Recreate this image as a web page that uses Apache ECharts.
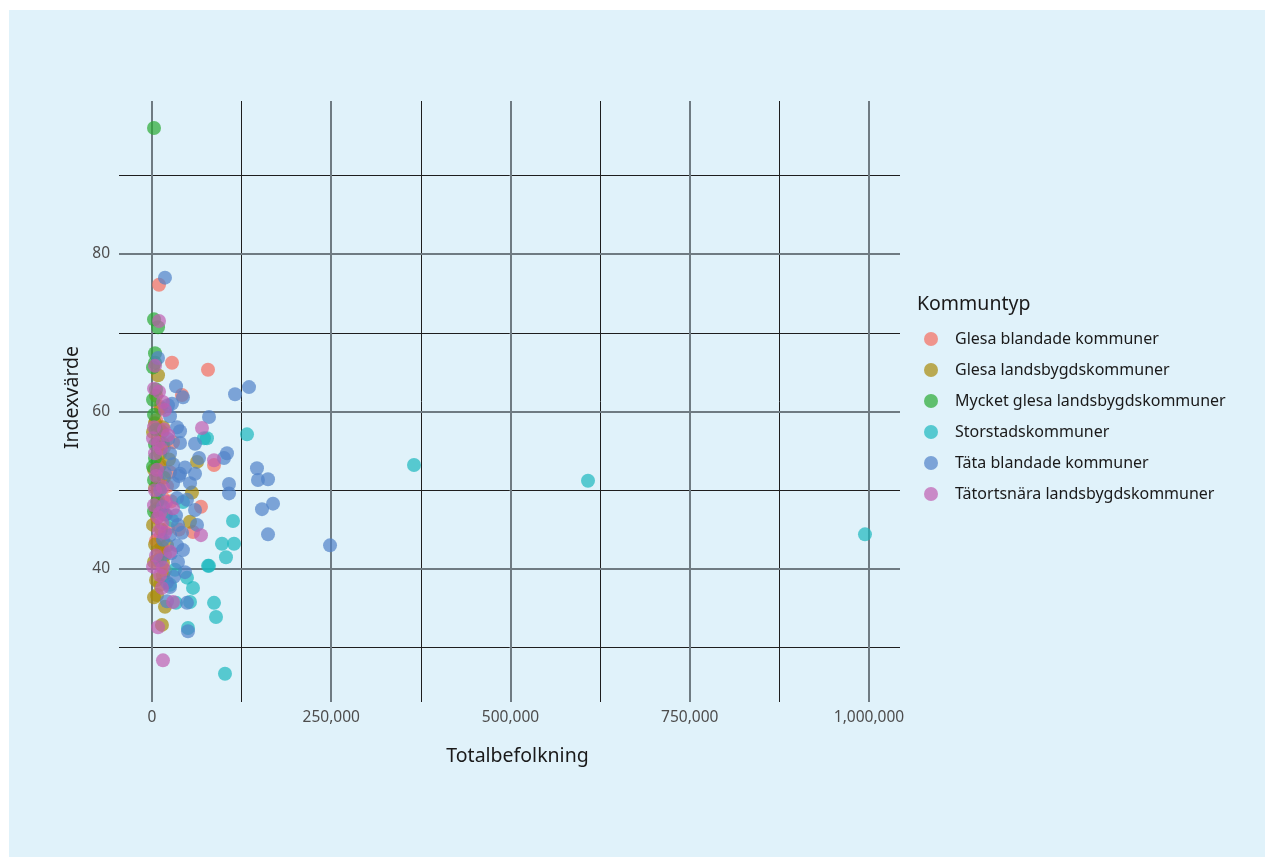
<!DOCTYPE html>
<html>
<head>
<meta charset="utf-8">
<script src="https://cdn.jsdelivr.net/npm/echarts@6/dist/echarts.min.js"></script>
<style>
html, body { margin: 0; padding: 0; background: #fff; }
#bg { position: absolute; left: 9px; top: 10px; width: 1256px; height: 847px; background: #e0f2fa; }
#chart { position: absolute; left: 0; top: 0; width: 1265px; height: 857px; }
</style>
</head>
<body>
<div id="bg"></div>
<div id="chart"></div>
<script>
// [Totalbefolkning, Indexvärde]
const categories = ['Glesa blandade kommuner', 'Glesa landsbygdskommuner', 'Mycket glesa landsbygdskommuner',
  'Storstadskommuner', 'Täta blandade kommuner', 'Tätortsnära landsbygdskommuner']
const colors = ['#f56c5c', '#a88a08', '#28aa32', '#1bb8bd', '#5082c7', '#bf5eb0']

const glesaBlandade = [[9800,76.1],[27900,66.2],[78100,65.3],[41800,62.1],[86500,53.2],[68300,47.9],[37700,45.0],
  [57200,44.7],[13900,42.8],[13900,42.2],[29300,56.1],[25100,52.3],[11200,60.6],[8400,51.3],[7000,46.5],
  [18100,41.8],[11200,57.7],[15300,49.0],[11200,44.1],[5600,58.9],[16700,55.4],[9800,53.0],[20900,50.5],
  [12600,48.0],[22300,45.2],[5600,43.6],[18100,39.8],[26500,48.6]]
const glesaLandsbygd = [[8400,64.6],[12600,60.4],[4200,58.5],[15300,58.0],[13900,57.4],[11200,54.7],[62800,53.6],
  [55800,49.7],[7000,41.1],[15300,40.8],[15300,39.2],[11200,38.0],[7000,36.7],[18100,35.2],[13900,32.9],
  [53000,46.0],[4200,50.3],[8400,48.8],[18100,46.9],[4200,43.1],[1400,45.6],[11200,53.2],[1400,57.4],
  [5600,62.0],[9800,56.2],[2800,52.6],[16700,51.6],[9800,50.2],[5600,47.6],[12600,45.0],[9800,42.4],
  [2800,40.9],[20900,43.0],[5600,38.6],[15300,55.9],[23700,53.9],[2800,36.4]]
const mycketGlesa = [[2800,96.0],[2800,71.7],[8400,70.7],[4200,67.4],[4200,66.2],[1400,61.5],[2800,59.6],
  [4200,54.1],[7000,48.5],[2800,51.3],[5600,57.7],[4200,55.8],[1400,53.0],[2800,47.3],[5600,62.8],[1400,65.6]]
const storstad = [[994400,44.4],[608100,51.2],[365400,53.2],[132500,57.1],[113000,46.1],[97600,43.2],[114400,43.2],
  [103200,41.5],[78100,40.4],[79500,40.4],[48800,38.9],[57200,37.6],[86500,35.7],[89300,33.9],[50200,32.5],
  [101800,26.7],[72500,56.6],[76700,56.6],[33500,35.7],[53000,35.8],[25100,38.0],[43200,48.5],[32100,39.9],[27900,46.2]]
const tataBlandade = [[18100,77.0],[248300,43.0],[161800,44.4],[168800,48.3],[153400,47.6],[161800,51.4],[147800,51.3],
  [146400,52.8],[135300,63.1],[115800,62.2],[107400,49.6],[107400,50.8],[104600,54.7],[100400,54.1],[79500,59.3],
  [33500,63.2],[43200,61.8],[34900,58.0],[39100,57.5],[39100,56.0],[60000,55.9],[65600,54.1],[22300,60.8],
  [25100,59.4],[46000,52.9],[60000,52.1],[39100,52.1],[37700,51.8],[29300,50.9],[34900,49.0],[48800,48.8],
  [60000,47.5],[25100,54.7],[36300,45.6],[62800,45.6],[25100,44.3],[43200,42.4],[34900,43.0],[36300,40.9],
  [46000,39.6],[20900,38.3],[25100,37.7],[48800,35.7],[50200,32.1],[18100,52.2],[11200,50.0],[15300,43.7],
  [8400,66.8],[19500,46.9],[11200,41.1],[22300,56.5],[29300,53.3],[15300,47.9],[26500,42.0],[30700,39.0],
  [20900,35.9],[33500,46.8],[41800,44.6],[27900,61.0],[53000,50.9]]
const tatortsnara = [[9800,71.5],[4200,65.8],[15300,61.2],[18100,60.2],[16700,57.7],[69700,57.9],[1400,56.6],
  [8400,56.0],[4200,54.7],[86500,53.8],[7000,52.6],[11200,47.1],[29300,47.7],[8400,46.6],[13900,45.8],
  [18100,44.6],[68300,44.3],[25100,42.2],[13900,37.6],[29300,35.8],[8400,32.6],[15300,28.4],[1400,40.3],
  [4200,50.0],[11200,39.2],[2800,58.0],[12600,55.3],[5600,51.8],[15300,50.4],[2800,48.1],[19500,48.5],
  [9800,44.8],[5600,41.7],[15300,40.2],[22300,57.0],[9800,62.5],[2800,62.9]]
const seriesData = [glesaBlandade, glesaLandsbygd, mycketGlesa, storstad, tataBlandade, tatortsnara]

const xTicks = [0, 250000, 500000, 750000, 1000000]
const xMinor = [125000, 375000, 625000, 875000]
const yTicks = [40, 60, 80]
const yMinor = [30, 50, 70, 90]

const font = 'Noto Sans'
const majorLine = { color: '#6f7b82', width: 2, type: 'solid' }
const minorLine = { color: '#1e1e1e', width: 1, type: 'solid' }

const chart = echarts.init(document.getElementById('chart'))

const gridLines = [
  ...xMinor.map(v => ({ xAxis: v, lineStyle: minorLine })),
  ...yMinor.map(v => ({ yAxis: v, lineStyle: minorLine })),
  ...xTicks.map(v => ({ xAxis: v, lineStyle: majorLine })),
  ...yTicks.map(v => ({ yAxis: v, lineStyle: majorLine }))
]

chart.setOption({
  animation: false,
  backgroundColor: 'transparent',
  textStyle: { fontFamily: font },
  title: {
    text: 'Kommuntyp',
    left: 917,
    top: 294,
    padding: 0,
    textStyle: { fontFamily: font, fontSize: 19.5, fontWeight: 'normal', color: '#1a1a1a' }
  },
  legend: {
    orient: 'vertical',
    left: 924,
    top: 331,
    padding: 0,
    itemWidth: 38,
    itemHeight: 14,
    itemGap: 15,
    icon: 'circle',
    data: categories,
    textStyle: { fontFamily: font, fontSize: 16, color: '#1a1a1a' }
  },
  grid: { left: 119, top: 101, width: 781, height: 601, containLabel: false },
  xAxis: {
    type: 'value',
    min: -46025,
    max: 1043236,
    name: 'Totalbefolkning',
    nameLocation: 'middle',
    nameGap: 44,
    nameMoveOverlap: false,
    nameTextStyle: { fontFamily: font, fontSize: 19.5, color: '#1a1a1a', padding: [0, 0, 0, 16] },
    axisLine: { show: false },
    axisTick: { show: false },
    splitLine: { show: false },
    axisLabel: {
      customValues: xTicks,
      margin: 8,
      fontFamily: font,
      fontSize: 15.5,
      color: '#4d4d4d',
      formatter: v => Number(v).toLocaleString('en-US')
    }
  },
  yAxis: {
    type: 'value',
    min: 23.11,
    max: 99.43,
    name: 'Indexvärde',
    nameLocation: 'middle',
    nameGap: 37,
    nameMoveOverlap: false,
    nameTextStyle: { fontFamily: font, fontSize: 19.5, color: '#1a1a1a', padding: [0, 0, 0, 8] },
    axisLine: { show: false },
    axisTick: { show: false },
    splitLine: { show: false },
    axisLabel: {
      customValues: yTicks,
      margin: 9,
      fontFamily: font,
      fontSize: 15.5,
      color: '#4d4d4d'
    }
  },
  series: [
    {
      type: 'scatter',
      data: [],
      silent: true,
      z: 1,
      markLine: {
        silent: true,
        symbol: 'none',
        z: 1,
        animation: false,
        label: { show: false },
        emphasis: { disabled: true },
        data: gridLines
      }
    },
    ...categories.map((name, i) => ({
      name: name,
      type: 'scatter',
      z: 3,
      symbolSize: 14,
      data: seriesData[i],
      itemStyle: { color: colors[i], opacity: 0.7 }
    }))
  ]
})
</script>
</body>
</html>
